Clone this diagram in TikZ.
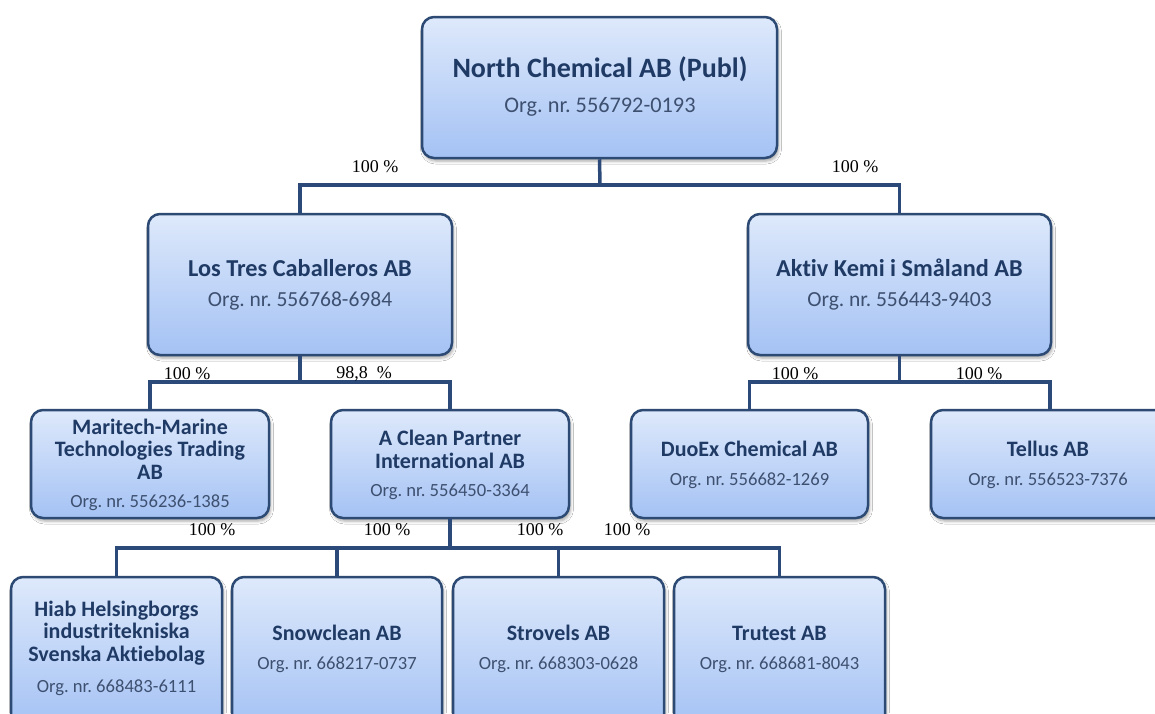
\documentclass[tikz,border=0pt]{standalone}
\usepackage{fontspec}
\setmainfont{Carlito}[Ligatures=NoCommon]
\newfontfamily\timesf{Liberation Serif}
\usetikzlibrary{shadows.blur}
\definecolor{bord}{RGB}{44,74,115}
\definecolor{conncol}{RGB}{43,74,122}
\definecolor{titlecol}{RGB}{31,58,100}
\definecolor{orgcol}{RGB}{62,80,112}
\definecolor{topfill}{RGB}{222,233,251}
\definecolor{botfill}{RGB}{164,194,244}
\frenchspacing
\tikzset{
  box/.style={draw=bord, line width=2.5pt, rounded corners=12pt,
    top color=topfill, bottom color=botfill, inner sep=0pt,
    blur shadow={shadow xshift=1.5pt, shadow yshift=-3pt, shadow blur radius=3pt, shadow opacity=35}},
  conn/.style={draw=conncol, line width=3.5pt},
  ttlA/.style={text=titlecol, font=\fontsize{28}{32}\selectfont\bfseries, inner sep=0pt},
  ttlB/.style={text=titlecol, font=\fontsize{24.3}{28}\selectfont\bfseries, inner sep=0pt},
  ttlC/.style={text=titlecol, font=\fontsize{22}{22.7}\selectfont\bfseries, inner sep=0pt, align=center},
  orgA/.style={text=orgcol, font=\fontsize{22.3}{25}\selectfont, inner sep=0pt},
  orgB/.style={text=orgcol, font=\fontsize{21.5}{25}\selectfont, inner sep=0pt},
  orgC/.style={text=orgcol, font=\fontsize{18.6}{21}\selectfont, inner sep=0pt},
  pct/.style={text=black, font=\timesf\fontsize{18}{20}\selectfont, inner sep=0pt},
}
\begin{document}
\begin{tikzpicture}[x=1pt,y=-1pt]
\useasboundingbox (0,0) rectangle (1155,713);
\fill[white] (0,0) rectangle (1155,713);
\clip (0,0) rectangle (1155,713);

% boxes
\node[box, minimum width=355pt, minimum height=141pt] (top) at (599.5,87.5) {};
\node[box, minimum width=304pt, minimum height=141pt] (los) at (300,284.5) {};
\node[box, minimum width=303pt, minimum height=141pt] (akt) at (899.5,284.5) {};
\node[box, minimum width=238pt, minimum height=108pt] (mar) at (150,464) {};
\node[box, minimum width=238pt, minimum height=108pt] (acp) at (450,464) {};
\node[box, minimum width=237pt, minimum height=108pt] (duo) at (749.5,464) {};
\node[box, minimum width=238pt, minimum height=108pt] (tel) at (1050,464) {};
\node[box, minimum width=211pt, minimum height=150pt] (hiab) at (116.5,652) {};
\node[box, minimum width=210pt, minimum height=150pt] (snow) at (337,652) {};
\node[box, minimum width=211pt, minimum height=150pt] (strv) at (558.5,652) {};
\node[box, minimum width=211pt, minimum height=150pt] (trut) at (779.5,652) {};

% texts
\node[ttlA] (topT) at (600,69) {North Chemical AB (Publ)};
\node[orgA] (topO) at (600,107) {Org. nr. 556792-0193};
\node[ttlB] (losT) at (300,268) {Los Tres Caballeros AB};
\node[orgB] (losO) at (300,301) {Org. nr. 556768-6984};
\node[ttlB] (aktT) at (899.5,268) {Aktiv Kemi i Småland AB};
\node[orgB] (aktO) at (899.5,301) {Org. nr. 556443-9403};
\node[ttlC] (marT) at (150,449) {Maritech-Marine\\Technologies Trading\\AB};
\node[orgC] (marO) at (150,503) {Org. nr. 556236-1385};
\node[ttlC] (acpT) at (450,449.5) {A Clean Partner\\International AB};
\node[orgC] (acpO) at (450,492) {Org. nr. 556450-3364};
\node[ttlC] (duoT) at (749.5,449) {DuoEx Chemical AB};
\node[orgC] (duoO) at (749.5,481) {Org. nr. 556682-1269};
\node[ttlC] (telT) at (1048,449) {Tellus AB};
\node[orgC] (telO) at (1048,481) {Org. nr. 556523-7376};
\node[ttlC] (hiabT) at (116.5,633) {Hiab Helsingborgs\\industritekniska\\Svenska Aktiebolag};
\node[orgC] (hiabO) at (116.5,688) {Org. nr. 668483-6111};
\node[ttlC] (snowT) at (337,633) {Snowclean AB};
\node[orgC] (snowO) at (337,665) {Org. nr. 668217-0737};
\node[ttlC] (strvT) at (558.5,633) {Strovels AB};
\node[orgC] (strvO) at (558.5,665) {Org. nr. 668303-0628};
\node[ttlC] (trutT) at (779.5,633) {Trutest AB};
\node[orgC] (trutO) at (779.5,665) {Org. nr. 668681-8043};

% junctions
\coordinate (j1) at (600,185);
\coordinate (j2) at (300,382);
\coordinate (j3) at (899.5,382);
\coordinate (j4) at (450,548);

% connectors
\draw[conn] (top.south) -- (j1);
\draw[conn] (los.north) |- (j1) -| (akt.north);
\draw[conn] (los.south) -- (j2);
\draw[conn] (mar.north) |- (j2) -| (acp.north);
\draw[conn] (akt.south) -- (j3);
\draw[conn] (duo.north) |- (j3) -| (tel.north);
\draw[conn] (acp.south) -- (j4);
\draw[conn] (hiab.north) |- (j4) -| (trut.north);
\draw[conn] (snow.north) -- (snow.north |- j4);
\draw[conn] (strv.north) -- (strv.north |- j4);

% percentages
\node[pct] (p1) at (375,167) {100 \%};
\node[pct] (p2) at (855,167) {100 \%};
\node[pct] (p3) at (187,374) {100 \%};
\node[pct] (p4) at (364,374) {98,8\ \ \%};
\node[pct] (p5) at (795,374) {100 \%};
\node[pct] (p6) at (979,374) {100 \%};
\node[pct] (p7) at (212,530) {100 \%};
\node[pct] (p8) at (387,530) {100 \%};
\node[pct] (p9) at (540,530) {100 \%};
\node[pct] (p10) at (627,530) {100 \%};
\end{tikzpicture}
\end{document}
